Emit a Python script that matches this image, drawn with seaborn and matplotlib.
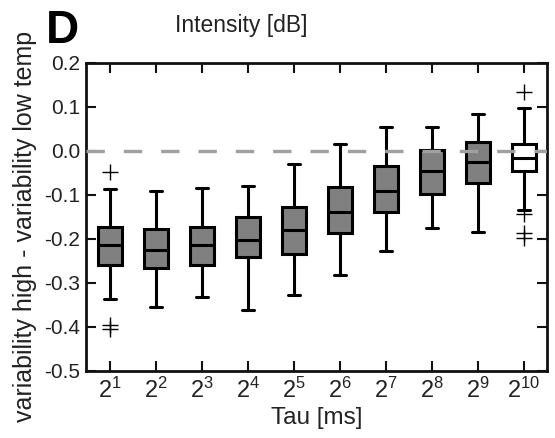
import matplotlib
matplotlib.use("Agg")
import matplotlib.pyplot as plt
import seaborn as sns
import pandas as pd

# ---- data ----
tau_labels = ["2^1", "2^2", "2^3", "2^4", "2^5", "2^6", "2^7", "2^8", "2^9", "2^10"]
whis_low = [-0.337, -0.355, -0.331, -0.361, -0.328, -0.281, -0.227, -0.176, -0.183, -0.134]
q1 = [-0.258, -0.267, -0.258, -0.242, -0.234, -0.186, -0.139, -0.098, -0.072, -0.045]
median = [-0.214, -0.225, -0.214, -0.202, -0.180, -0.139, -0.092, -0.045, -0.026, -0.015]
q3 = [-0.173, -0.178, -0.173, -0.151, -0.127, -0.082, -0.035, 0.002, 0.020, 0.017]
whis_high = [-0.087, -0.091, -0.085, -0.079, -0.030, 0.017, 0.054, 0.054, 0.083, 0.097]
outlier_tau = ["2^1", "2^1", "2^1", "2^10", "2^10", "2^10", "2^10"]
outlier_val = [-0.047, -0.396, -0.404, 0.135, -0.143, -0.186, -0.197]
box_colors = ["#808080"] * 9 + ["#ffffff"]
yticks = [0.2, 0.1, 0.0, -0.1, -0.2, -0.3, -0.4, -0.5]

rows = []
for t, a, b, c, d, e in zip(tau_labels, whis_low, q1, median, q3, whis_high):
    for v in (a, b, c, d, e):
        rows.append({"tau": t, "value": v})
df = pd.DataFrame(rows)
df_out = pd.DataFrame({"tau": outlier_tau, "value": outlier_val})

sns.set_style("ticks")
plt.rcParams["font.family"] = ["Liberation Sans", "DejaVu Sans"]
plt.rcParams["mathtext.fontset"] = "custom"
plt.rcParams["mathtext.rm"] = "Liberation Sans"
plt.rcParams["mathtext.it"] = "Liberation Sans:italic"
plt.rcParams["mathtext.bf"] = "Liberation Sans:bold"

txt = "#222222"
fig = plt.figure(figsize=(5.55, 4.38), dpi=100)
ax = fig.add_axes([86 / 555, 67 / 438, 461 / 555, 308 / 438])

palette = dict(zip(tau_labels, box_colors))
sns.boxplot(data=df, x="tau", y="value", hue="tau", order=tau_labels,
            hue_order=tau_labels, palette=palette, dodge=False, legend=False,
            whis=(0, 100), showfliers=False, width=0.54, linewidth=2.2,
            linecolor="black", ax=ax, zorder=2)

sns.stripplot(data=df_out, x="tau", y="value", order=tau_labels, jitter=False,
              marker="+", color="black", size=11, linewidth=1.0, ax=ax, zorder=3)

ax.axhline(0.0, color="#a0a0a0", linewidth=2.4, dashes=(5.5, 5.7), zorder=4)

ax.set_xlim(-0.52, 9.5)
ax.set_ylim(-0.5, 0.2)
ax.set_yticks(yticks)
ax.set_yticklabels([f"{v:.1f}".replace("\u2212", "-") for v in yticks])
ax.set_xticks(range(len(tau_labels)))
ax.set_xticklabels([r"$\mathregular{2^{%s}}$" % t.split("^")[1] for t in tau_labels])

for s in ax.spines.values():
    s.set_visible(True)
    s.set_linewidth(2.0)
    s.set_color("#111111")

ax.tick_params(direction="in", top=True, right=True, length=7, width=1.5,
               colors="#111111", labelcolor=txt, labelsize=15, pad=4)
ax.tick_params(axis="x", labelsize=17, pad=5)

ax.set_xlabel("Tau [ms]", fontsize=17.5, color=txt, labelpad=3)
ax.set_ylabel("")
fig.text(25 / 555, 1 - 226 / 438, "variability high - variability low temp",
         fontsize=18, color=txt, rotation=90, ha="center", va="center")

fig.text(241 / 555, 1 - 32 / 438, "Intensity [dB]", fontsize=16.5, color=txt,
         ha="center", va="baseline")
fig.text(46 / 555, 1 - 43 / 438, "D", fontsize=33, fontweight="bold",
         color="black", ha="left", va="baseline")

fig.savefig("out.png", dpi=100)
